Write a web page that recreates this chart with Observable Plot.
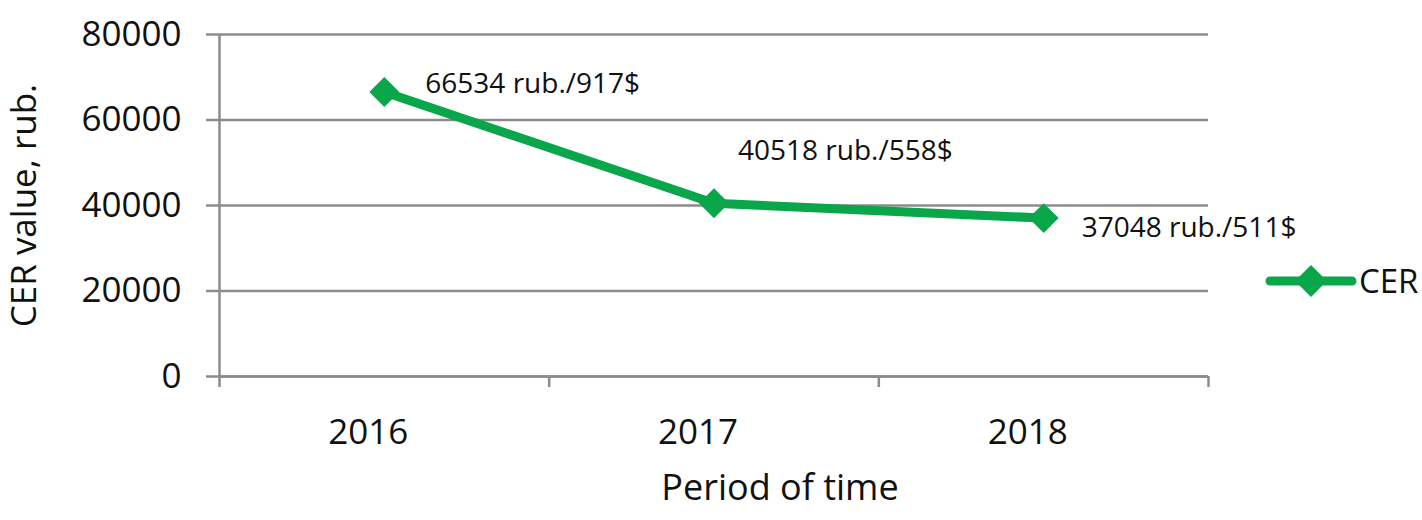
<!DOCTYPE html>
<html>
<head>
<meta charset="utf-8">
<script src="https://cdn.jsdelivr.net/npm/d3@7"></script>
<script src="https://cdn.jsdelivr.net/npm/@observablehq/plot@0.6"></script>
<style>
  html, body { margin: 0; padding: 0; background: #fff; }
  #wrap { position: relative; width: 1422px; height: 520px; font-family: "Open Sans", sans-serif; }
  #legend { position: absolute; left: 1265px; top: 258px; display: flex; align-items: center; font-size: 33px; color: #111; }
</style>
</head>
<body>
<div id="wrap">
  <div id="chart"></div>
  <div id="legend"></div>
</div>
<script>
const years = [2016, 2017, 2018];
const values = [66534, 40518, 37048];
const usd = [917, 558, 511];
const yTicks = [0, 20000, 40000, 60000, 80000];
const xBounds = [2015.5, 2016.5, 2017.5, 2018.5];
const seriesName = "CER";
const xTitle = "Period of time";
const yTitle = "CER value, rub.";

const data = years.map((year, i) => ({year, value: values[i], label: `${values[i]} rub./${usd[i]}$`}));

const green = "#0aa64a";
const gray = "#8c8c8c";

const chart = Plot.plot({
  width: 1422,
  height: 520,
  marginLeft: 219,
  marginRight: 214,
  marginTop: 34,
  marginBottom: 144,
  style: {fontFamily: "Open Sans, sans-serif", color: "#111", background: "#fff"},
  x: {domain: [2015.5, 2018.5]},
  y: {domain: [0, 80000]},
  marks: [
    Plot.gridY(yTicks, {stroke: gray, strokeOpacity: 1, strokeWidth: 2.5}),
    Plot.axisY(yTicks, {tickSize: 13, stroke: gray, strokeWidth: 2.5, tickPadding: 25, fontSize: 35, tickFormat: d => String(d),
      label: yTitle, labelAnchor: "center", labelArrow: "none", labelOffset: 208}),
    Plot.axisX(xBounds, {tickSize: 11, stroke: gray, strokeWidth: 2.5, tickFormat: () => "", label: null}),
    Plot.axisX(years, {tickSize: 0, tickPadding: 43, dx: -16, fontSize: 35, tickFormat: d => String(d), label: null}),
    Plot.text([xTitle], {frameAnchor: "bottom", dx: 66, dy: 123, fontSize: 36, fill: "#111"}),
    Plot.ruleX([2015.5], {y1: 0, y2: 80000, stroke: gray, strokeWidth: 2.5}),
    Plot.ruleY([0], {stroke: gray, strokeWidth: 2.5}),
    Plot.line(data, {x: "year", y: "value", stroke: green, strokeWidth: 9, strokeLinejoin: "round"}),
    Plot.dot(data, {x: "year", y: "value", symbol: "diamond2", r: 13.5, fill: green, stroke: "none"}),
    Plot.text(data.filter((d, i) => i === 0), {x: "year", y: "value", text: "label", textAnchor: "start", dx: 41, dy: -8, fontSize: 28, fill: "#111"}),
    Plot.text(data.filter((d, i) => i === 1), {x: "year", y: "value", text: "label", textAnchor: "start", dx: 24, dy: -52, fontSize: 28, fill: "#111"}),
    Plot.text(data.filter((d, i) => i === 2), {x: "year", y: "value", text: "label", textAnchor: "start", dx: 38, dy: 10, fontSize: 28, fill: "#111"})
  ]
});
document.getElementById("chart").appendChild(chart);

// legend
const leg = document.getElementById("legend");
leg.innerHTML = `<svg width="92" height="44" style="display:block"><line x1="5" y1="22" x2="87" y2="22" stroke="${green}" stroke-width="9" stroke-linecap="round"/><path d="M46,6 L62,22 L46,38 L30,22 Z" fill="${green}"/></svg><span style="margin-left:2px">${seriesName}</span>`;
</script>
</body>
</html>
